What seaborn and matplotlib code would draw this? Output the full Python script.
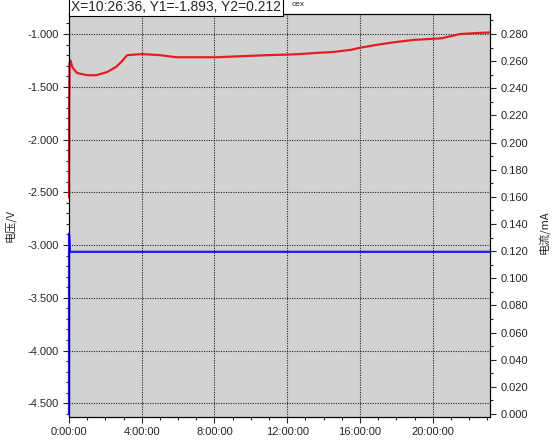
import numpy as np
import pandas as pd
import matplotlib
matplotlib.use("Agg")
import matplotlib.pyplot as plt
from matplotlib.ticker import MultipleLocator, FuncFormatter
import seaborn as sns

# voltage curve (hours, V)
volt_hours = [0.0, 0.005, 0.01, 0.03, 0.08, 0.2, 0.45, 1.0, 1.5, 2.1, 2.6, 2.9, 3.2, 4.0,
              5.0, 5.9, 7.0, 8.1, 9.5, 10.9, 12.0, 12.7, 13.5, 14.5, 15.5, 16.0, 17.0,
              18.0, 19.0, 20.0, 20.5, 21.0, 21.5, 22.0, 22.5, 23.15]
volt_values = [-2.55, -2.0, -1.6, -1.27, -1.25, -1.32, -1.37, -1.39, -1.39, -1.36, -1.31,
               -1.26, -1.20, -1.19, -1.20, -1.22, -1.22, -1.22, -1.21, -1.20, -1.195, -1.19,
               -1.18, -1.17, -1.15, -1.13, -1.10, -1.075, -1.055, -1.045, -1.04, -1.02,
               -1.0, -0.995, -0.99, -0.985]

# current curve (hours, mA)
curr_hours = [0.0, 0.002, 0.02, 0.05, 0.1, 23.15]
curr_values = [0.0, 0.133, 0.128, 0.1195, 0.1195, 0.1195]

volt_df = pd.DataFrame({"t": volt_hours, "v": volt_values})
curr_df = pd.DataFrame({"t": curr_hours, "i": curr_values})

sns.set_style("ticks")
plt.rcParams["font.family"] = ["Liberation Sans", "Noto Sans CJK SC", "DejaVu Sans"]

fig = plt.figure(figsize=(5.53, 4.43), dpi=100)
ax = fig.add_axes([69 / 553, 1 - 417 / 443, (490 - 69) / 553, (417 - 14) / 443])
ax.set_facecolor("#d2d2d2")
ax2 = ax.twinx()

sns.lineplot(data=volt_df, x="t", y="v", ax=ax, color="#e02020", linewidth=1.6)
sns.lineplot(data=curr_df, x="t", y="i", ax=ax2, color="#1a1aff", linewidth=1.6)
for a in (ax, ax2):
    for ln in a.get_lines():
        ln.set_clip_on(False)

ax.set_xlim(0, 23.15)
ax.set_ylim(-4.63, -0.81)
ax2.set_ylim(-0.0022, 0.2947)

ax.xaxis.set_major_locator(MultipleLocator(4))
ax.xaxis.set_minor_locator(MultipleLocator(1))
ax.xaxis.set_major_formatter(FuncFormatter(lambda x, p: "%d:00:00" % int(round(x))))
ax.yaxis.set_major_locator(MultipleLocator(0.5))
ax.yaxis.set_minor_locator(MultipleLocator(0.1))
ax.yaxis.set_major_formatter(FuncFormatter(lambda y, p: "%.3f" % y))
ax2.yaxis.set_major_locator(MultipleLocator(0.02))
ax2.yaxis.set_minor_locator(MultipleLocator(0.01))
ax2.yaxis.set_major_formatter(FuncFormatter(lambda y, p: "%.3f" % abs(y)))

for a in (ax, ax2):
    a.tick_params(which="major", length=4, width=0.8, labelsize=8, direction="out")
    a.tick_params(which="minor", length=2, width=0.8, direction="out")
    for s in a.spines.values():
        s.set_visible(True)
        s.set_color("black")
        s.set_linewidth(0.8)

ax.grid(True, which="major", color="#222222", linestyle=(0, (1, 1.2)), linewidth=0.8)
ax.set_axisbelow(True)
ax.set_xlabel("")
ax.set_ylabel("")
ax2.set_ylabel("")

fig.text(10 / 553, 1 - 225 / 443, "电压/V", rotation=90, fontsize=8, ha="center", va="center",
         family=["Noto Sans CJK SC", "DejaVu Sans"])
fig.text(544 / 553, 1 - 232 / 443, "电流/mA", rotation=90, fontsize=8, ha="center", va="center",
         family=["Noto Sans CJK SC", "DejaVu Sans"])

fig.text(71 / 553, 1 - 7 / 443, "X=10:26:36, Y1=-1.893, Y2=0.212", fontsize=10,
         ha="left", va="center",
         bbox=dict(boxstyle="square,pad=0.12", facecolor="white", edgecolor="black", linewidth=0.8))
fig.text(292 / 553, 1 - 5 / 443, "cex", fontsize=6, ha="left", va="center")

fig.savefig("out.png", dpi=100)
